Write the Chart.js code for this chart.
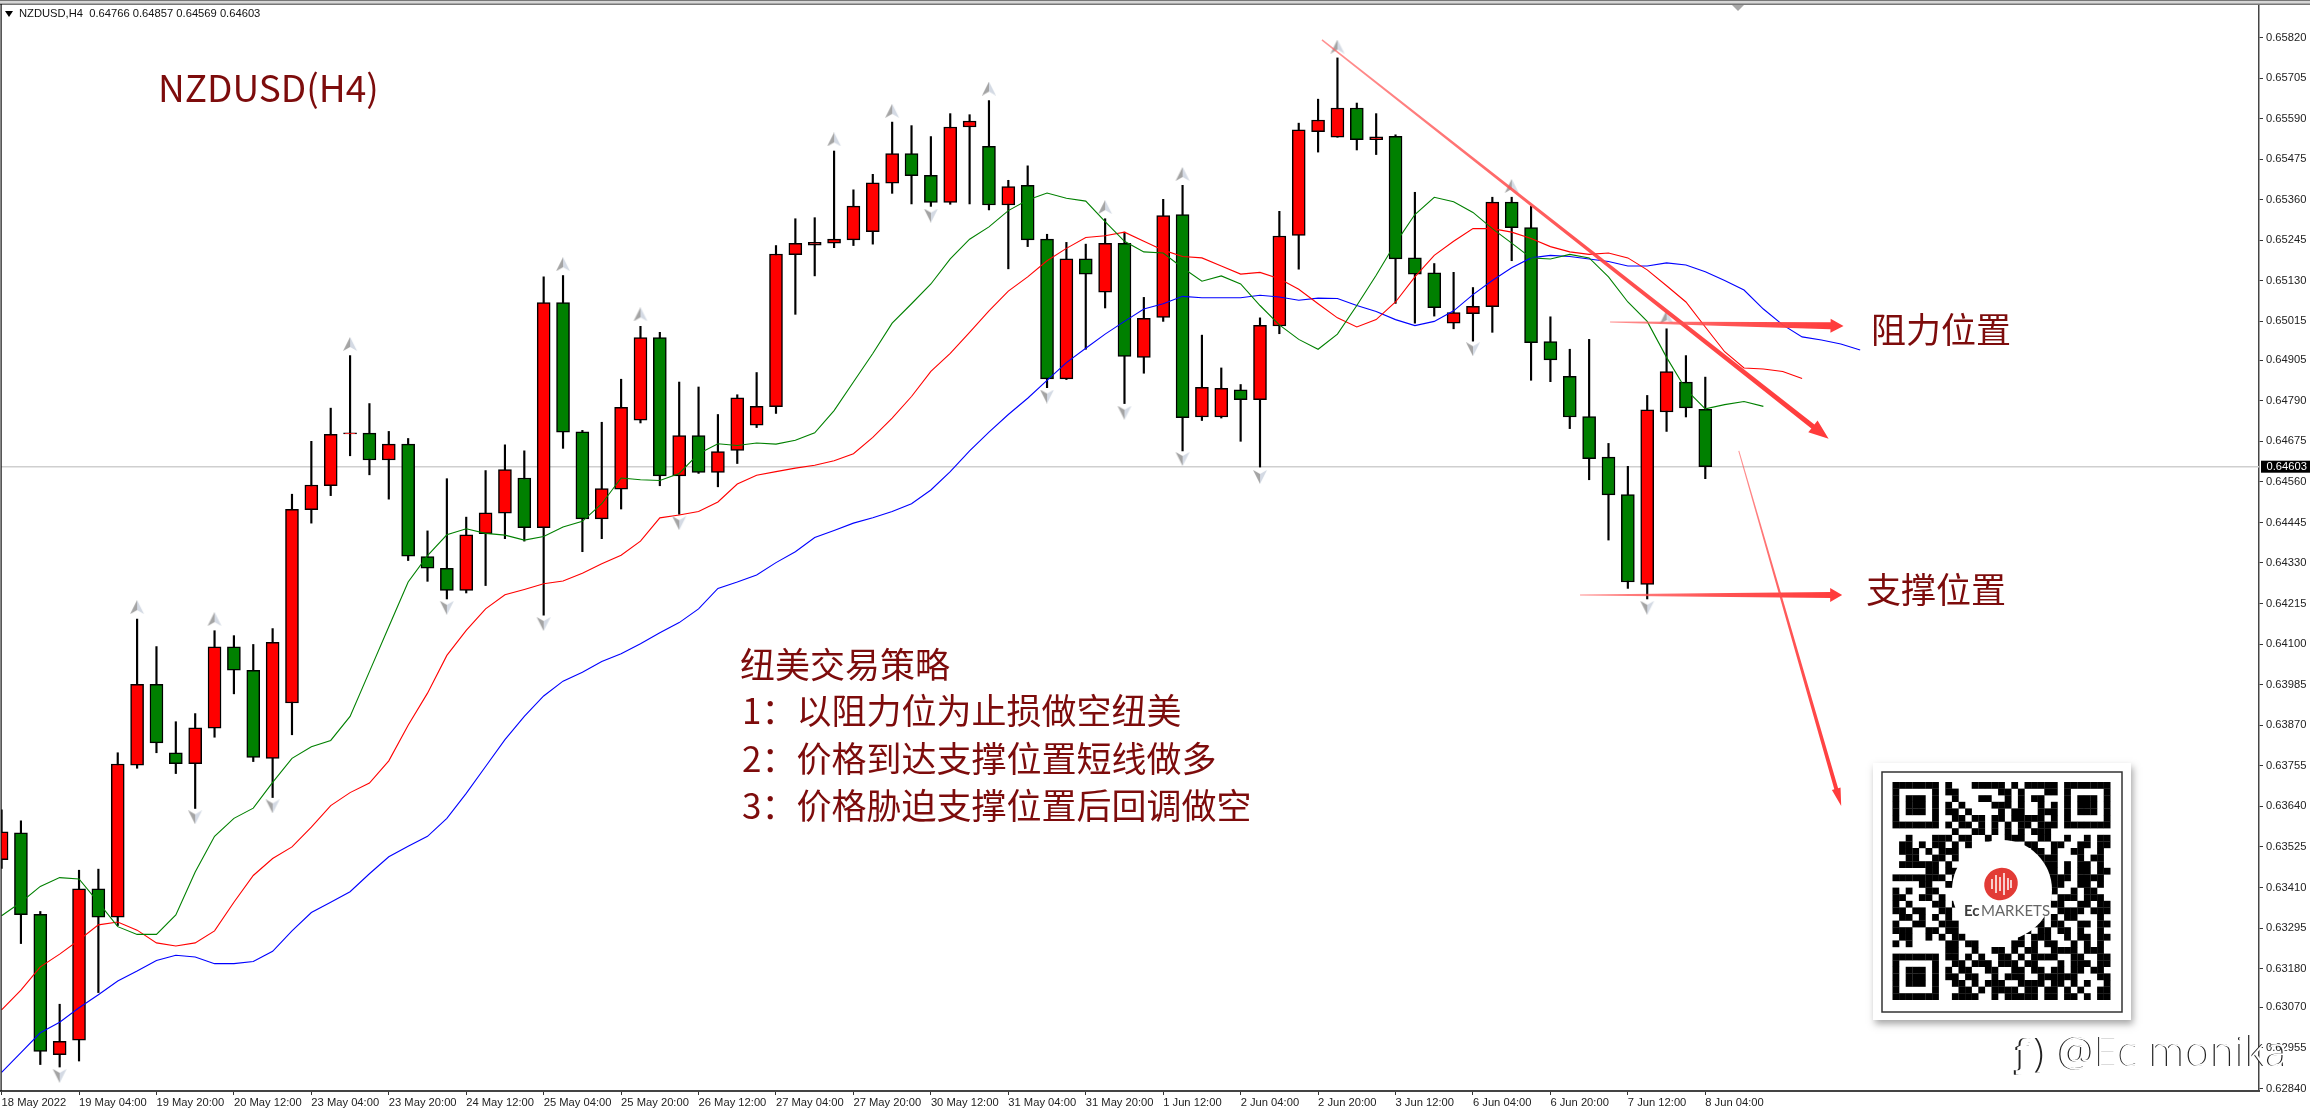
<!DOCTYPE html>
<html>
<head>
<meta charset="utf-8">
<title>NZDUSD H4</title>
<script src="https://cdn.jsdelivr.net/npm/chart.js@4"></script>
<style>
  html, body { margin: 0; padding: 0; background: #fff; overflow: hidden; }
  canvas { display: block; }
</style>
</head>
<body>
<canvas id="myChart" width="2310" height="1111"></canvas>
<script>
// all prices are in points (1 point = 0.00001), bar index 0 = 18 May 2022
const opens = [63489,63565,63334,62936,62977,63406,63326,63757,63986,63792,63761,63862,64092,64026,63776,63933,64481,64549,64696,64698,
  64622,64667,64348,64315,64252,64413,64471,64571,64430,65068,64702,64455,64539,64735,64969,64577,64691,64587,64649,64721,
  64773,65204,65231,65237,65246,65269,65407,65491,65429,65352,65566,65511,65345,65401,65248,64852,65192,65098,65236,64913,
  65026,65318,64744,64744,64821,64793,65002,65259,65553,65537,65620,65530,65540,65195,65153,65010,65037,65057,65353,65281,
  64958,64859,64745,64630,64524,64269,64758,64843,64766];
const highs = [63630,63599,63342,63079,63459,63462,63792,64171,64093,63880,63903,64138,64124,64099,64144,64525,64675,64769,64918,64782,
  64703,64683,64421,64569,64460,64592,64665,64648,65141,65145,64706,64729,64851,65001,64984,64843,64829,64751,64807,64870,
  65230,65306,65309,65498,65388,65432,65580,65570,65539,65604,65601,65641,65415,65456,65262,65239,65234,65306,65268,65083,
  65361,65401,64976,64883,64836,65025,65327,65577,65645,65762,65634,65604,65544,65381,65179,65154,65111,65367,65367,65341,
  65028,64936,64964,64669,64604,64805,64994,64918,64857];
const lows = [63464,63251,62908,62901,62918,63112,63302,63748,63792,63733,63634,63836,63959,63767,63665,63843,64443,64521,64634,64580,
  64511,64337,64278,64228,64245,64266,64399,64392,64182,64655,64362,64399,64483,64727,64549,64468,64584,64546,64612,64714,
  64754,65035,65144,65224,65230,65234,65378,65348,65341,65347,65348,65331,65164,65227,64827,64850,64936,65053,64782,64868,
  65015,64648,64734,64741,64675,64602,64980,65163,65495,65537,65501,65488,65066,65010,65030,64994,64959,64984,65187,64848,
  64844,64711,64566,64395,64258,64228,64703,64744,64569];
const closes = [63568,63333,62945,62974,63406,63326,63760,63986,63820,63761,63863,64092,64026,63779,64105,64482,64551,64695,64699,64622,
  64667,64349,64315,64252,64410,64472,64595,64430,65068,64701,64455,64541,64771,64969,64577,64691,64587,64646,64798,64774,
  65206,65236,65239,65248,65342,65408,65491,65428,65352,65566,65583,65345,65397,65246,64852,65192,65149,65236,64916,65024,
  65315,64742,64828,64825,64793,65004,65257,65558,65586,65620,65530,65538,65192,65149,65054,65040,65058,65353,65281,64955,
  64906,64744,64626,64523,64276,64764,64873,64770,64603];

// alligator lines, they run past the last candle
const blueLine = [62886,62942,62998,63028,63069,63106,63145,63173,63203,63218,63213,63194,63194,63200,63229,63287,63339,63368,63398,63449,
  63497,63527,63555,63606,63677,63753,63829,63895,63953,63995,64020,64051,64073,64101,64132,64161,64200,64258,64276,64296,
  64331,64362,64402,64422,64443,64458,64476,64498,64537,64589,64648,64701,64751,64797,64848,64898,64939,64979,65015,65050,
  65065,65086,65082,65082,65082,65089,65084,65075,65081,65080,65060,65043,65020,65003,65015,65045,65091,65131,65167,65195,
  65202,65199,65192,65185,65172,65172,65181,65175,65156,65131,65104,65050,65005,64971,64962,64951,64934];
const redLine = [63063,63119,63185,63221,63261,63304,63312,63289,63253,63244,63253,63287,63368,63444,63492,63525,63581,63642,63679,63706,
  63769,63870,63961,64068,64139,64200,64240,64255,64271,64279,64301,64328,64352,64392,64458,64466,64476,64503,64554,64579,
  64589,64599,64607,64620,64640,64686,64741,64802,64873,64924,64984,65045,65101,65141,65187,65222,65253,65258,65268,65242,
  65217,65199,65195,65172,65149,65154,65136,65106,65065,65025,64999,65020,65070,65141,65202,65242,65278,65278,65268,65250,
  65227,65212,65205,65209,65195,65161,65116,65070,64999,64929,64883,64880,64873,64853];
const greenLine = [63330,63368,63413,63438,63434,63368,63299,63277,63277,63332,63454,63555,63606,63635,63708,63776,63809,63827,63895,64022,
  64149,64276,64351,64410,64427,64414,64409,64395,64405,64432,64448,64498,64571,64566,64564,64584,64640,64668,64663,64670,
  64667,64678,64699,64762,64843,64924,65010,65065,65121,65192,65248,65283,65329,65359,65379,65364,65356,65298,65242,65212,
  65209,65167,65129,65144,65121,65060,65005,64964,64936,64979,65060,65146,65237,65318,65367,65354,65324,65278,65237,65195,
  65192,65205,65195,65141,65070,65015,64913,64822,64767,64779,64788,64774];

// fractal arrows
const fractalUpBars = [7,11,18,29,33,43,46,51,57,61,69,78,86];
const fractalUpLevels = [64205,64171,64951,65177,65035,65531,65612,65675,65339,65433,65794,65399,65027];
const fractalDownBars = [3,10,14,23,28,35,48,54,58,61,65,76,85];
const fractalDownLevels = [62876,63609,63640,64203,64157,64443,65315,64802,64756,64625,64574,64936,64203];

const timeTickBars = [0,4,8,12,16,20,24,28,32,36,40,44,48,52,56,60,64,68,72,76,80,84,88];
const timeLabels = ['18 May 2022','19 May 04:00','19 May 20:00','20 May 12:00','23 May 04:00','23 May 20:00','24 May 12:00','25 May 04:00',
  '25 May 20:00','26 May 12:00','27 May 04:00','27 May 20:00','30 May 12:00','31 May 04:00','31 May 20:00','1 Jun 12:00','2 Jun 04:00',
  '2 Jun 20:00','3 Jun 12:00','6 Jun 04:00','6 Jun 20:00','7 Jun 12:00','8 Jun 04:00'];
const priceTicks = [0.65820,0.65705,0.65590,0.65475,0.65360,0.65245,0.65130,0.65015,0.64905,0.64790,0.64675,0.64560,0.64445,0.64330,
  0.64215,0.64100,0.63985,0.63870,0.63755,0.63640,0.63525,0.63410,0.63295,0.63180,0.63070,0.62955,0.62840];

const currentPrice = 64603;
const headerText = 'NZDUSD,H4  0.64766 0.64857 0.64569 0.64603';
const titleText = 'NZDUSD(H4)';
const strategyLines = ['纽美交易策略', '1：以阻力位为止损做空纽美', '2：价格到达支撑位置短线做多', '3：价格胁迫支撑位置后回调做空'];
const resistanceText = '阻力位置';
const supportText = '支撑位置';
const watermarkText = '@Ec monika';

// hand drawn arrows on the chart: [bar, points] -> [bar, points]
const trendArrow = [68.2, 65813, 94.37, 64682];
const resistanceArrow = [83.08, 65013, 95.14, 65002];
const supportArrow = [81.53, 64239, 95.07, 64239];
const forecastArrow = [89.73, 64648, 95.02, 63641];

const qrRows = [
  '1111111' + '0100011111010111110' + '1111111',
  '1000001' + '0110000001101000110' + '1000001',
  '1011101' + '0010001100101011000' + '1011101',
  '1011101' + '0101000011101001010' + '1011101',
  '1011101' + '0110100001011001110' + '1011101',
  '1000001' + '0011011011011111010' + '1000001',
  '1111111' + '0101101010101101110' + '1111111',
  '0000000' + '0010011010101011100' + '0000000',
  '001000111011001001110011001001011',
  '011010110101000000001100110011011',
  '011101011100000000000110100110010',
  '001100110100000000000011100010110',
  '011111101000000000000011101011010',
  '000001101100000000000001101011011',
  '111111110100000000000001111011110',
  '000011001100000000000000110011010',
  '101001100000000000000001100101100',
  '110011010000000000000001011101110',
  '101000110100000000000000110011011',
  '110110011000000000000000011110111',
  '011010101000000000000010101100010',
  '100110011100000000000110110011011',
  '111001101100000000001011011010010',
  '011001010110000000010111001011011',
  '101000001101100000110101100101010',
  '000000001100100110101100111101110',
  '1111111' + '0110101001101011110' + '0110011',
  '1000001' + '0011011101110110001' + '0111011',
  '1011101' + '0101100110011011011' + '0110110',
  '1011101' + '0110110010111001111' + '1100011',
  '1011101' + '0011010111001111011' + '0101001',
  '1000001' + '0001101011110110110' + '1010011',
  '1111111' + '0011110010111110110' + '1101011'
];

const BAR_RED = '#ff0000';
const BAR_GREEN = '#008000';
const TEXT_RED = '#7d0c0c';
const axisFont = '"Liberation Sans", Arial, sans-serif';
const cjkFont = '"Noto Sans CJK SC", sans-serif';

const toPrice = (p) => p / 100000;
const xy = (values) => values.map((v, i) => ({ x: i, y: toPrice(v) }));

function makeArrowImage(up) {
  const c = document.createElement('canvas');
  c.width = 16;
  c.height = 14;
  const g = c.getContext('2d');
  const tip = up ? 0 : 14;
  const tail = up ? 14 : 0;
  const notch = up ? 10 : 4;
  g.fillStyle = '#a4a4a4';
  g.beginPath(); g.moveTo(8, tip); g.lineTo(1, tail); g.lineTo(8, notch); g.fill();
  g.fillStyle = '#d4dae4';
  g.beginPath(); g.moveTo(8, tip); g.lineTo(15, tail); g.lineTo(8, notch); g.fill();
  return c;
}

function drawArrow(ctx, chart, def, w0, w1, headLen, headW) {
  const xs = chart.scales.x, ys = chart.scales.y;
  const x0 = xs.getPixelForValue(def[0]), y0 = ys.getPixelForValue(toPrice(def[1]));
  const x1 = xs.getPixelForValue(def[2]), y1 = ys.getPixelForValue(toPrice(def[3]));
  const len = Math.hypot(x1 - x0, y1 - y0);
  const ux = (x1 - x0) / len, uy = (y1 - y0) / len;
  const nx = -uy, ny = ux;
  const bx = x1 - ux * headLen, by = y1 - uy * headLen;
  const grad = ctx.createLinearGradient(x0, y0, x1, y1);
  grad.addColorStop(0, 'rgba(255,100,100,0.7)');
  grad.addColorStop(0.5, 'rgba(255,70,70,0.92)');
  grad.addColorStop(1, '#ff3a3a');
  ctx.fillStyle = grad;
  ctx.beginPath();
  ctx.moveTo(x0 + nx * w0 / 2, y0 + ny * w0 / 2);
  ctx.lineTo(bx + nx * w1 / 2, by + ny * w1 / 2);
  ctx.lineTo(bx + nx * headW / 2, by + ny * headW / 2);
  ctx.lineTo(x1, y1);
  ctx.lineTo(bx - nx * headW / 2, by - ny * headW / 2);
  ctx.lineTo(bx - nx * w1 / 2, by - ny * w1 / 2);
  ctx.lineTo(x0 - nx * w0 / 2, y0 - ny * w0 / 2);
  ctx.closePath();
  ctx.fill();
}

function drawQr(ctx) {
  ctx.save();
  ctx.shadowColor = 'rgba(0,0,0,0.35)';
  ctx.shadowBlur = 7;
  ctx.shadowOffsetX = 2;
  ctx.shadowOffsetY = 4;
  ctx.fillStyle = '#fff';
  ctx.fillRect(1873, 763, 258, 257);
  ctx.restore();
  ctx.strokeStyle = '#333';
  ctx.lineWidth = 1.5;
  ctx.strokeRect(1882, 772, 240, 240);
  const cell = 6.6;
  ctx.fillStyle = '#000';
  qrRows.forEach((row, r) => {
    for (let c = 0; c < row.length; c++) {
      if (row[c] === '1') ctx.fillRect(1892.5 + c * cell, 782 + r * cell, cell + 0.2, cell + 0.2);
    }
  });
  ctx.fillStyle = '#fff';
  ctx.beginPath();
  ctx.arc(2002, 890, 50, 0, Math.PI * 2);
  ctx.fill();
  ctx.fillStyle = '#e23b36';
  ctx.beginPath();
  ctx.ellipse(2001, 884, 17, 16, -0.5, 0, Math.PI * 2);
  ctx.fill();
  ctx.strokeStyle = '#fff';
  ctx.lineWidth = 1.5;
  [-9, -5, -1, 3, 7, 10].forEach((dx, i) => {
    const h = [5, 9, 7, 11, 6, 4][i];
    ctx.beginPath();
    ctx.moveTo(2001 + dx, 884 - h);
    ctx.lineTo(2001 + dx, 884 + h);
    ctx.stroke();
  });
  ctx.textBaseline = 'middle';
  ctx.textAlign = 'left';
  ctx.fillStyle = '#3c3c3c';
  ctx.font = 'bold 15px Lato, sans-serif';
  ctx.fillText('Ec', 1964, 911);
  ctx.fillStyle = '#666';
  ctx.font = '15px Lato, sans-serif';
  ctx.fillText('MARKETS', 1981, 911);
}

const overlayPlugin = {
  id: 'overlay',
  afterDraw(chart) {
    const ctx = chart.ctx;
    ctx.save();

    // window frame
    ctx.fillStyle = '#d6d6d6';
    ctx.fillRect(0, 0, 2310, 4);
    ctx.fillStyle = '#777';
    ctx.fillRect(0, 0, 2310, 1);
    ctx.fillRect(0, 3.5, 2310, 1.5);
    ctx.fillStyle = '#111';
    ctx.fillRect(0.5, 4, 1.2, 1087);

    // chart shift marker
    ctx.fillStyle = '#a6a6a6';
    ctx.beginPath();
    ctx.moveTo(1732, 5); ctx.lineTo(1744, 5); ctx.lineTo(1738, 11);
    ctx.fill();

    // header
    ctx.fillStyle = '#000';
    ctx.beginPath();
    ctx.moveTo(5, 11); ctx.lineTo(13, 11); ctx.lineTo(9, 17);
    ctx.fill();
    ctx.font = '11.2px ' + axisFont;
    ctx.textAlign = 'left';
    ctx.textBaseline = 'middle';
    ctx.fillStyle = '#111';
    ctx.fillText(headerText, 19, 14);

    // current price tag
    const yNow = chart.scales.y.getPixelForValue(toPrice(currentPrice));
    ctx.fillStyle = '#000';
    ctx.fillRect(2261, yNow - 6, 49, 12);
    ctx.fillStyle = '#fff';
    ctx.fillText((currentPrice / 100000).toFixed(5), 2266.5, yNow + 0.5);

    // arrows
    drawArrow(ctx, chart, trendArrow, 1.5, 5, 20, 15);
    drawArrow(ctx, chart, resistanceArrow, 1, 7, 13, 14);
    drawArrow(ctx, chart, supportArrow, 1, 6, 12, 14);
    drawArrow(ctx, chart, forecastArrow, 1, 4, 18, 9);

    // texts
    ctx.fillStyle = TEXT_RED;
    ctx.textBaseline = 'alphabetic';
    ctx.font = '37px ' + cjkFont;
    ctx.fillText(titleText, 158, 102);
    ctx.font = '35px ' + cjkFont;
    ctx.fillText(strategyLines[0], 740, 678);
    ctx.fillText(strategyLines[1], 742, 724);
    ctx.fillText(strategyLines[2], 742, 772);
    ctx.fillText(strategyLines[3], 742, 819);
    ctx.fillText(resistanceText, 1871, 343);
    ctx.fillText(supportText, 1866, 603);

    drawQr(ctx);

    // watermark
    ctx.textBaseline = 'alphabetic';
    ctx.letterSpacing = '0.6px';
    ctx.fillStyle = '#222';
    ctx.font = 'bold 40px "Open Sans", sans-serif';
    ctx.fillText('ƒ)', 2010, 1066);
    ctx.font = '300 41px "Open Sans", sans-serif';
    ctx.fillText(watermarkText, 2057, 1066);
    ctx.fillStyle = '#fff';
    ctx.font = 'bold 40px "Open Sans", sans-serif';
    ctx.fillText('ƒ)', 2012, 1066);
    ctx.font = '300 41px "Open Sans", sans-serif';
    ctx.fillText(watermarkText, 2058.2, 1066);
    ctx.letterSpacing = '0px';

    ctx.restore();
  }
};

const barIndexes = opens.map((_, i) => i);

new Chart(document.getElementById('myChart'), {
  type: 'bar',
  data: {
    datasets: [
      {
        type: 'line',
        data: [{ x: -1, y: toPrice(currentPrice) }, { x: 118, y: toPrice(currentPrice) }],
        borderColor: '#cfcfcf',
        borderWidth: 1.5,
        pointRadius: 0,
        order: 6
      },
      {
        // wicks
        data: barIndexes.map((i) => ({ x: i, y: [toPrice(lows[i]), toPrice(highs[i])] })),
        backgroundColor: '#000',
        barThickness: 1.5,
        grouped: false,
        order: 5
      },
      {
        // bodies
        data: barIndexes.map((i) => ({ x: i, y: [toPrice(opens[i]), toPrice(closes[i])] })),
        backgroundColor: barIndexes.map((i) => (closes[i] >= opens[i] ? BAR_RED : BAR_GREEN)),
        borderColor: '#000',
        borderWidth: 1.5,
        borderSkipped: false,
        barThickness: 13,
        grouped: false,
        order: 4
      },
      { type: 'line', data: xy(blueLine), borderColor: '#0000ff', borderWidth: 1.1, pointRadius: 0, order: 3 },
      { type: 'line', data: xy(redLine), borderColor: '#ff0000', borderWidth: 1.1, pointRadius: 0, order: 2 },
      { type: 'line', data: xy(greenLine), borderColor: '#008000', borderWidth: 1.1, pointRadius: 0, order: 1 },
      {
        type: 'scatter',
        data: fractalUpBars.map((b, i) => ({ x: b, y: toPrice(fractalUpLevels[i]) })),
        pointStyle: makeArrowImage(true),
        pointRadius: 7,
        order: 0
      },
      {
        type: 'scatter',
        data: fractalDownBars.map((b, i) => ({ x: b, y: toPrice(fractalDownLevels[i]) })),
        pointStyle: makeArrowImage(false),
        pointRadius: 7,
        order: 0
      }
    ]
  },
  options: {
    responsive: false,
    animation: false,
    devicePixelRatio: 1,
    layout: { autoPadding: false, padding: { left: 1, top: 5, right: 0, bottom: 0 } },
    plugins: { legend: { display: false }, tooltip: { enabled: false } },
    scales: {
      x: {
        type: 'linear',
        offset: false,
        min: -0.03,
        max: 116.6,
        afterBuildTicks(scale) { scale.ticks = timeTickBars.map((v) => ({ value: v })); },
        afterFit(scale) {
          scale.height = 20;
          scale.paddingLeft = 0;
          scale.paddingRight = 0;
        },
        grid: { offset: false, drawOnChartArea: false, drawTicks: true, tickLength: 4, color: '#333' },
        border: { color: '#444', width: 2 },
        ticks: {
          autoSkip: false,
          maxRotation: 0,
          minRotation: 0,
          align: 'start',
          padding: 1,
          color: '#222',
          font: { family: axisFont, size: 11.2 },
          callback: (v) => timeLabels[timeTickBars.indexOf(v)]
        }
      },
      y: {
        position: 'right',
        min: 0.62833,
        max: 0.65912,
        afterBuildTicks(scale) { scale.ticks = priceTicks.map((v) => ({ value: v })); },
        afterFit(scale) {
          scale.width = 51;
          scale.paddingTop = 0;
          scale.paddingBottom = 0;
        },
        grid: { drawOnChartArea: false, drawTicks: true, tickLength: 4, color: '#333' },
        border: { color: '#444', width: 1.5 },
        ticks: {
          autoSkip: false,
          padding: 3,
          color: '#222',
          font: { family: axisFont, size: 11.2 },
          callback: (v) => v.toFixed(5)
        }
      }
    }
  },
  plugins: [overlayPlugin]
});
</script>
</body>
</html>
